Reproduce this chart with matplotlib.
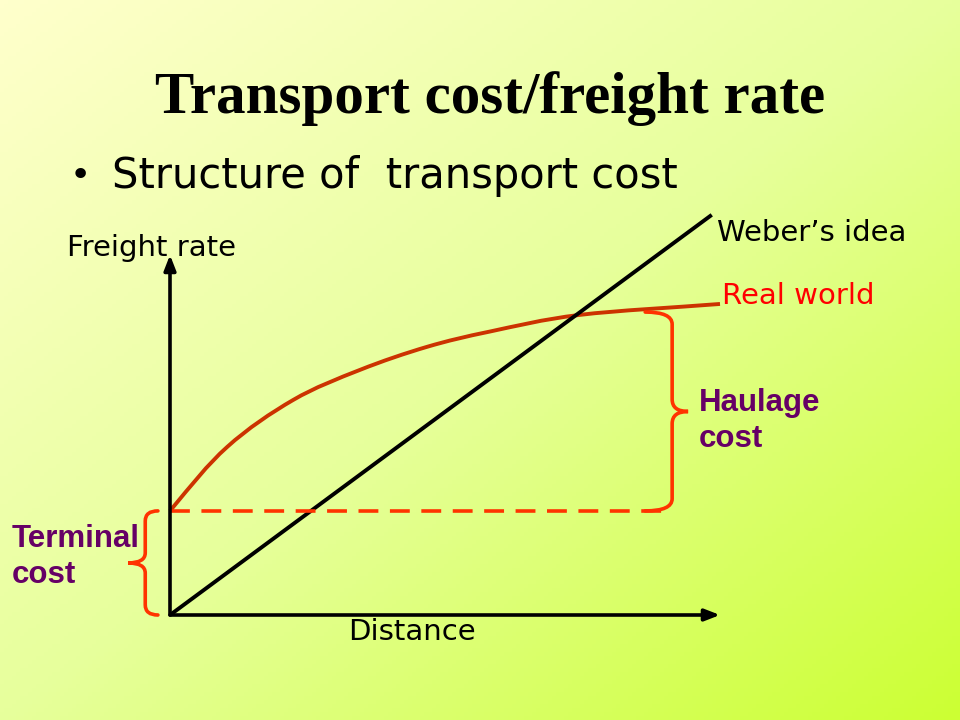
import numpy as np
import matplotlib
matplotlib.use("Agg")
import matplotlib.pyplot as plt
from matplotlib.path import Path
from matplotlib.patches import PathPatch
from matplotlib.colors import LinearSegmentedColormap

# ---- data ----
weber_x = [0, 98.5]
weber_y = [0, 98.8]
real_x = [0, 10.4, 22.4, 34.5, 46.7, 58.2, 74.5, 100]
real_y = [25.7, 41.5, 53.1, 60.5, 66.2, 70.0, 74.1, 76.8]
terminal_cost = 25.7
dashed_end = 90.5
title = "Transport cost/freight rate"
bullet_text = "Structure of  transport cost"

W, H = 960, 720
fig = plt.figure(figsize=(9.6, 7.2), dpi=100)

# background gradient
bg = fig.add_axes([0, 0, 1, 1], zorder=-10)
xx, yy = np.meshgrid(np.linspace(0, 1, 240), np.linspace(0, 1, 180))
t = (xx + yy) / 2
cmap = LinearSegmentedColormap.from_list(
    "bg", [(0, (1.0, 1.0, 0.80)), (0.5, (0.905, 1.0, 0.61)), (1.0, (0.80, 1.0, 0.20))])
bg.imshow(t, cmap=cmap, extent=[0, 1, 1, 0], aspect="auto", vmin=0, vmax=1)
bg.set_xlim(0, 1); bg.set_ylim(1, 0)
bg.axis("off")

def fx(px):
    return px / W
def fy(py):
    return 1 - py / H

# chart axes: origin at pixel (170, 615)
ax = fig.add_axes([fx(170), fy(615), 550 / W, 405 / H])
ax.set_xlim(0, 100)
ax.set_ylim(0, 100)
ax.axis("off")

# axes arrows
ax.annotate("", xy=(100, 0), xytext=(0, 0), annotation_clip=False,
            arrowprops=dict(arrowstyle="-|>,head_length=0.9,head_width=0.35",
                            color="black", lw=2.6, shrinkA=0, shrinkB=0))
ax.annotate("", xy=(0, 88.9), xytext=(0, 0), annotation_clip=False,
            arrowprops=dict(arrowstyle="-|>,head_length=0.9,head_width=0.35",
                            color="black", lw=2.6, shrinkA=0, shrinkB=0))

# Weber's line
ax.plot(weber_x, weber_y, color="black", lw=2.8, clip_on=False, solid_capstyle="butt")

# Real world curve: smooth Bezier path through the read points (Catmull-Rom)
pts = np.column_stack([real_x, real_y]).astype(float)
n = len(pts)
tang = np.zeros_like(pts)
for i in range(n):
    if i == 0:
        tang[i] = (pts[1] - pts[0]) * 1.4 - (pts[2] - pts[1]) * 0.2
    elif i == n - 1:
        tang[i] = pts[i] - pts[i - 1]
    else:
        tang[i] = (pts[i + 1] - pts[i - 1]) / 2
verts = [tuple(pts[0])]
codes = [Path.MOVETO]
for i in range(n - 1):
    c1 = pts[i] + tang[i] / 3.0
    c2 = pts[i + 1] - tang[i + 1] / 3.0
    verts += [tuple(c1), tuple(c2), tuple(pts[i + 1])]
    codes += [Path.CURVE4] * 3
ax.add_patch(PathPatch(Path(verts, codes), fill=False, edgecolor="#CC3300",
                       lw=2.8, clip_on=False))

# dashed terminal level
ax.plot([0, dashed_end], [terminal_cost, terminal_cost], color="#FF3300", lw=2.6,
        dashes=(5.5, 3.2), clip_on=False)

def brace(x0, x1, x2, yb, yt, r, color):
    ym = (yb + yt) / 2
    v = [(x0, yt), (x1, yt), (x1, yt - r),
         (x1, ym + r), (x1, ym), (x2, ym),
         (x1, ym), (x1, ym - r),
         (x1, yb + r), (x1, yb), (x0, yb)]
    c = [Path.MOVETO, Path.CURVE3, Path.CURVE3,
         Path.LINETO, Path.CURVE3, Path.CURVE3,
         Path.CURVE3, Path.CURVE3,
         Path.LINETO, Path.CURVE3, Path.CURVE3]
    ax.add_patch(PathPatch(Path(v, c), fill=False, edgecolor=color,
                           lw=2.6, clip_on=False, capstyle="round"))

brace(86.4, 91.3, 94.2, terminal_cost, 74.8, 3.0, "#FF3300")
brace(-2.2, -4.5, -7.6, 0, terminal_cost, 2.5, "#FF3300")

# texts
fig.text(fx(490), fy(99), title, family="Liberation Serif", weight="bold",
         fontsize=42.5, ha="center", va="center", color="black")
fig.text(fx(80), fy(176), "\u2022", family="DejaVu Sans", fontsize=26,
         ha="center", va="center", color="black")
fig.text(fx(112), fy(176), bullet_text, family="DejaVu Sans", fontsize=30,
         ha="left", va="center", color="black")
lab = dict(family="DejaVu Sans", fontsize=21, va="center")
fig.text(fx(67), fy(248), "Freight rate", ha="left", color="black", **lab)
fig.text(fx(717), fy(233), "Weber\u2019s idea", ha="left", color="black", **lab)
fig.text(fx(722), fy(296), "Real world", ha="left", color="#FF0000", **lab)
fig.text(fx(348), fy(632), "Distance", ha="left", color="black", **lab)
bold = dict(family="Liberation Sans", weight="bold", fontsize=22.5, ha="left",
            va="center", color="#660066", linespacing=1.25)
fig.text(fx(12), fy(557), "Terminal\ncost", **bold)
fig.text(fx(699), fy(421), "Haulage\ncost", **bold)

fig.savefig("out.png", dpi=100)
